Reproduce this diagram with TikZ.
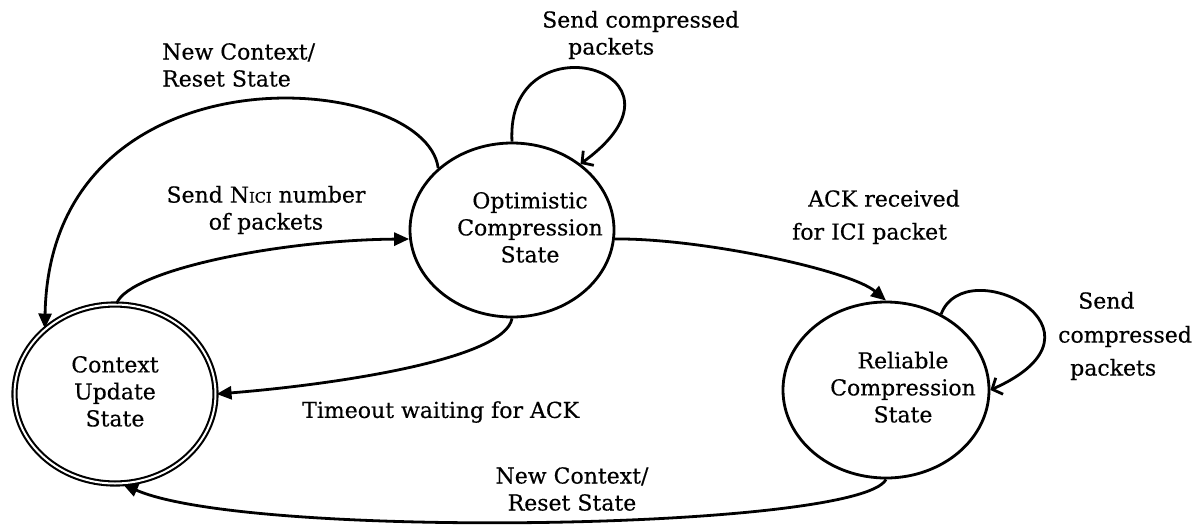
\documentclass[tikz,border=0pt]{standalone}
\usepackage{fontspec}
\setmainfont[FakeBold=0.4]{DejaVu Serif}
\usetikzlibrary{shapes.geometric,arrows.meta}
\newcommand\lblfont{\fontsize{22}{27}\selectfont}
\newcommand\smallici{{\fontsize{14.5}{14.5}\selectfont ICI}}
\tikzset{
  state/.style={ellipse, draw, line width=2.8pt, inner sep=0pt, font=\lblfont},
  trans/.style={line width=2.8pt, -{Triangle[length=15pt,width=13pt]}},
  loopedge/.style={line width=2.8pt, -{Straight Barb[length=8pt,width=18pt]}},
  lbl/.style={inner sep=0pt, font=\lblfont}
}
\begin{document}
\begin{tikzpicture}[x=1pt,y=-1pt]
\useasboundingbox (0,0) rectangle (1192,531);

% states
\node[state, minimum width=204pt, minimum height=174pt] (ocs) at (512,230)
  {\makebox[0pt]{\hspace*{36pt}\begin{tabular}{@{}c@{}}Optimistic\\Compression\\State\end{tabular}}};
\node[state, double, double distance=2pt, line width=2.1pt, minimum width=201pt, minimum height=179pt] (cus) at (115,394)
  {\makebox[0pt]{\begin{tabular}{@{}c@{}}Context\\Update\\State\end{tabular}}};
\node[state, minimum width=206pt, minimum height=176pt] (rcs) at (886,390)
  {\makebox[0pt]{\hspace*{34pt}\begin{tabular}{@{}c@{}}Reliable\\Compression\\State\end{tabular}}};

% labels
\node[lbl, anchor=west, align=left] (l1) at (162,65) {New Context/\\Reset State};
\node[lbl, align=center] (l2) at (266,210) {Send N\smallici{} number\\of packets};
\node[lbl, anchor=west, align=left] (l3) at (542,35) {Send compressed\\\hspace*{26pt}packets};
\node[lbl, anchor=west, align=left] (l4) at (792,217) {\hspace*{16pt}ACK received\\[6pt]for ICI packet};
\node[lbl, anchor=west] (l5) at (302,412) {Timeout waiting for ACK};
\node[lbl, align=center] (l6) at (572,489) {New Context/\\Reset State};
\node[lbl, anchor=west, align=left] (l7) at (1058,336) {\hspace*{20pt}Send\\[7pt]compressed\\[6pt]\hspace*{12pt}packets};

% transitions
\draw[trans] (ocs.140) .. controls (425,70) and (50,40) .. (cus.137);
\draw[trans] (cus.89) .. controls (130,270) and (280,240) .. (ocs.185);
\draw[trans] (ocs.270) .. controls (505,360) and (330,385) .. (cus.0);
\draw[trans] (ocs.-5) .. controls (700,238) and (850,270) .. (rcs.90);
\draw[loopedge] (ocs.90) .. controls (505,15) and (710,70) .. (ocs.44);
\draw[loopedge] (rcs.54) .. controls (965,250) and (1125,330) .. (rcs.0);
\draw[trans] (rcs.270) .. controls (860,530) and (250,540) .. (cus.-85);
\end{tikzpicture}
\end{document}
